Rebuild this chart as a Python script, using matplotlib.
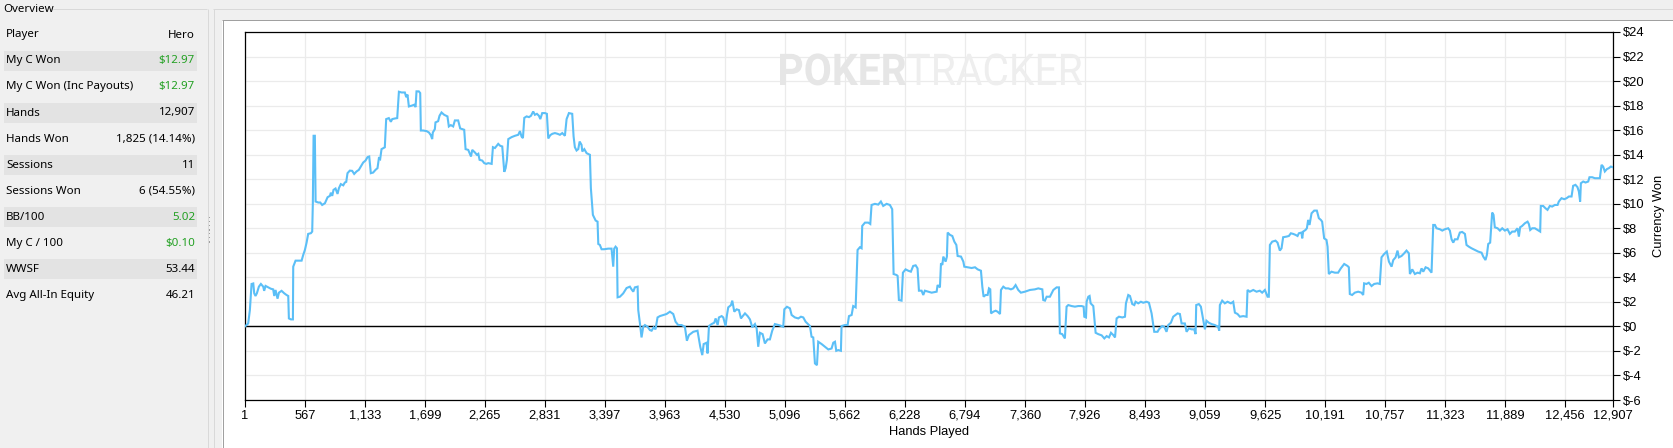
import matplotlib
matplotlib.use("Agg")
import matplotlib.pyplot as plt
from matplotlib import font_manager
from matplotlib.patches import Rectangle, PathPatch
from matplotlib.lines import Line2D
from matplotlib.textpath import TextPath
from matplotlib.font_manager import FontProperties
from matplotlib.transforms import Affine2D, IdentityTransform

# ---------------- data ----------------
hands_played = [
    1, 31, 47, 63, 79, 88, 100, 113, 132, 151, 173, 182, 195, 220, 245, 267, 277, 289, 308, 321,
    346, 371, 393, 409, 415, 434, 453, 456, 478, 503, 535, 550, 566, 582, 597, 623, 635, 641, 648, 660,
    667, 692, 711, 729, 755, 780, 802, 811, 824, 836, 855, 874, 887, 905, 928, 943, 956, 968, 990, 1012,
    1031, 1053, 1075, 1094, 1116, 1138, 1157, 1173, 1188, 1210, 1232, 1251, 1264, 1276, 1289, 1320, 1333, 1358, 1377, 1390,
    1415, 1437, 1453, 1478, 1509, 1522, 1534, 1547, 1572, 1597, 1610, 1619, 1641, 1654, 1660, 1682, 1714, 1736, 1754, 1767,
    1773, 1792, 1798, 1823, 1836, 1855, 1880, 1911, 1924, 1943, 1965, 1981, 2012, 2031, 2069,
    2082, 2107, 2133, 2145, 2170, 2189, 2202, 2214, 2239, 2258, 2277, 2296, 2328, 2340, 2359, 2390, 2409, 2428, 2447, 2460,
    2472, 2485, 2516, 2548, 2579, 2595, 2610, 2623, 2636, 2658, 2680, 2699, 2720, 2736, 2755, 2774, 2787, 2805, 2831, 2849,
    2862, 2881, 2900, 2925, 2950, 2972, 2994, 3019, 3035, 3057, 3088, 3101, 3113, 3129, 3145, 3158, 3176, 3183, 3202, 3224,
    3255, 3264, 3283, 3309, 3327, 3334, 3349, 3365, 3390, 3428, 3459, 3475, 3484, 3497, 3510, 3516, 3538, 3569, 3601, 3632,
    3648, 3664, 3679, 3705, 3711, 3727, 3742, 3758, 3774, 3799, 3821, 3837, 3856, 3874, 3893, 3915, 3947, 3978, 4010, 4041,
    4063, 4088, 4120, 4151, 4170, 4189, 4230, 4270,
    4296, 4315, 4328, 4356, 4365, 4378, 4403, 4428, 4441, 4460, 4472, 4498, 4513, 4535, 4548, 4560, 4586, 4598, 4617, 4639,
    4661, 4680, 4692, 4718, 4743, 4765, 4787, 4812, 4828, 4843, 4859, 4884, 4906, 4931, 4953, 4975, 5000, 5048, 5079, 5089,
    5114, 5142, 5158, 5189, 5221, 5246, 5268, 5290, 5331, 5346, 5362, 5378, 5397, 5409, 5441, 5472, 5504, 5535, 5551, 5567,
    5579, 5598, 5623, 5629, 5661, 5686, 5699, 5724, 5739, 5762, 5780, 5802, 5818, 5824, 5850, 5881, 5900, 5912, 5944, 5975,
    6000, 6022, 6054, 6085, 6107, 6120, 6148, 6158, 6170, 6195, 6208, 6233, 6258, 6283, 6305, 6328, 6346, 6359, 6384, 6400,
    6415,
    6479, 6526, 6535, 6557, 6567, 6580, 6589, 6611, 6623, 6630, 6652, 6674, 6693, 6712, 6724, 6756, 6778, 6787, 6818, 6856,
    6888, 6913, 6944, 6957, 6969, 6988, 7007, 7020, 7032, 7039, 7061, 7083, 7101, 7124, 7133, 7155, 7177, 7202, 7227, 7249,
    7271, 7296, 7321, 7359, 7406, 7453, 7485, 7523, 7532, 7548, 7564, 7595, 7627, 7658, 7680, 7689, 7711, 7736, 7752, 7768,
    7799, 7831, 7862, 7894, 7913, 7919, 7935, 7941, 7957, 7969, 7979, 8004, 8026, 8051, 8083, 8108, 8130, 8152, 8171, 8193,
    8209, 8224, 8246, 8278, 8303, 8312, 8334, 8350, 8372, 8391, 8403, 8428, 8453, 8475, 8507, 8529, 8554, 8579,
    8610, 8623, 8642, 8654, 8673, 8695, 8711, 8736, 8758, 8780, 8799, 8821, 8837, 8868, 8884, 8906, 8931, 8956, 8969, 8975,
    9000, 9019, 9041, 9057, 9072, 9094, 9120, 9151, 9182, 9192, 9198, 9220, 9245, 9270, 9302, 9324, 9340, 9365, 9387, 9418,
    9450, 9459, 9481, 9513, 9544, 9575, 9597, 9623, 9648, 9660, 9670, 9692, 9723, 9742, 9764, 9780, 9795, 9827, 9849, 9868,
    9890, 9912, 9931, 9943, 9968, 9975, 9984, 10006, 10019, 10031, 10044, 10063, 10088, 10113, 10132, 10151, 10163, 10182, 10204, 10214,
    10226, 10251, 10283, 10314, 10339, 10371, 10402, 10415, 10424, 10446, 10471, 10503, 10534, 10550, 10559, 10581, 10603, 10629, 10654, 10685,
    10707, 10723, 10748, 10773,
    10793, 10818, 10834, 10856, 10874, 10887, 10912, 10937, 10959, 10981, 10991, 11013, 11038, 11063, 11085, 11101, 11117, 11139, 11164, 11195,
    11211, 11227, 11242, 11274, 11296, 11321, 11352, 11368, 11384, 11400, 11415, 11440, 11462, 11484, 11510, 11525, 11547, 11572, 11604, 11635,
    11667, 11683, 11704, 11717, 11730, 11748, 11767, 11780, 11792, 11818, 11840, 11862, 11887, 11912, 11934, 11956, 11981, 12006, 12019, 12031,
    12050, 12076, 12101, 12113, 12126, 12145, 12170, 12195, 12220, 12226, 12248, 12270, 12289, 12311, 12333, 12358, 12384, 12396, 12421, 12447,
    12469, 12491, 12516, 12531, 12553, 12572, 12585, 12597, 12604, 12626, 12648, 12673, 12685, 12711, 12736, 12761, 12783, 12799, 12814, 12830,
    12849, 12868, 12887, 12907,
]

currency_won = [
    0, 0.24, 1.33, 3.46, 3.5, 2.7, 2.48, 2.7, 3.24, 3.46, 3.24, 2.9, 3.3, 3.18, 3.07, 3.02, 2.48, 2.97, 2.26, 2.75,
    2.9, 2.7, 2.56, 2.48, 0.65, 0.57, 0.57, 4.87, 5.36, 5.36, 5.36, 5.82, 6.23, 6.83, 7.54, 7.6, 7.73, 10.04, 15.54, 15.54,
    10.18, 10.1, 10.1, 9.9, 10.04, 10.53, 10.64, 10.9, 10.64, 11.13, 11.24, 10.8, 11.27, 11.6, 11.5, 11.73, 11.78, 12.49, 12.7, 12.68,
    12.43, 12.63, 12.76, 13.03, 13.36, 13.52, 13.8, 13.85, 12.49, 12.54, 12.76, 12.9, 13.7, 13.63, 14.45, 14.6, 16.9, 16.98, 16.68, 16.9,
    16.95, 16.98, 19.13, 19.07, 19.07, 18.69, 18.9, 17.93, 17.99, 18.07, 17.88, 19.16, 19.16, 19.02, 15.97, 15.97, 15.92, 15.81, 15.59, 15.27,
    15.81, 16.08, 16.63, 16.73, 17.17, 17.44, 17.25, 17.12, 16.3, 16.41, 16.3, 16.79, 16.79, 16.14, 16.03,
    14.45, 14.39, 13.85, 14.39, 14.18, 13.99, 14.07, 13.58, 13.52, 13.31, 13.25, 13.31, 13.25, 14.61, 14.54, 14.88, 14.72, 14.67, 12.6, 12.9,
    13.58, 15.27, 15.43, 15.54, 15.62, 15.92, 15.48, 15.35, 17.0, 17.12, 17.06, 17.17, 17.52, 17.25, 17.33, 17.17, 16.9, 17.39, 17.39, 17.33,
    15.32, 15.59, 15.7, 15.76, 15.7, 15.62, 15.76, 15.54, 16.9, 17.39, 17.33, 15.48, 14.61, 14.34, 14.45, 15.07, 14.8, 14.26, 14.45, 14.12,
    13.99, 11.27, 9.09, 8.63, 8.54, 6.72, 6.64, 6.29, 6.29, 6.34, 6.34, 4.87, 6.34, 6.5, 6.37, 2.37, 2.42, 2.69, 3.13, 3.24,
    3.02, 2.83, 3.18, 3.24, 1.33, 0.24, -0.9, -0.03, 0.11, -0.03, -0.3, -0.35, -0.08, -0.24, 0.73, 0.84, 0.93, 1.01, 1.2, 1.01,
    0.38, 0.11, 0.11, -0.03, -1.17, -0.71, -0.44, -0.35,
    -1.66, -2.34, -1.44, -1.33, -2.2, 0.03, 0.19, 0.3, 0.65, 0.11, 0.73, 0.84, 0.73, 0.03, 0.93, 1.55, 1.74, 2.1, 1.2, 1.39,
    1.33, 0.65, 0.79, 1.06, 0.84, 0.57, -0.08, 0.19, -0.16, -1.66, -0.52, -0.63, -1.39, -1.06, -1.06, -0.35, 0.19, 0.08, -0.03, 1.39,
    1.6, 1.47, 0.93, 0.73, 0.65, 0.79, 0.73, 0.38, 0.03, -0.84, -0.9, -3.02, -3.16, -1.25, -1.44, -1.66, -1.88, -1.8, -1.33, -1.25,
    -1.99, -1.93, -1.99, 0.03, 0.11, 0.11, 0.84, 0.93, 1.66, 1.55, 6.23, 6.45, 6.37, 8.19, 8.46, 8.46, 8.35, 9.9, 9.99, 9.93,
    10.18, 9.82, 9.99, 9.9, 9.55, 4.27, 4.19, 4.11, 2.15, 2.1, 4.38, 4.65, 4.54, 4.46, 4.93, 4.98, 4.73, 2.91, 2.91, 2.56,
    2.91,
    2.75, 2.83, 3.37, 3.18, 5.14, 5.01, 5.69, 5.28, 5.69, 7.65, 7.46, 7.37, 6.91, 6.64, 5.74, 5.69, 5.28, 4.87, 4.82, 4.76,
    4.82, 4.65, 4.54, 3.24, 2.42, 2.56, 2.56, 3.1, 3.02, 1.06, 1.2, 1.28, 1.2, 1.01, 2.97, 3.24, 3.1, 3.1, 3.02, 3.1,
    3.37, 2.97, 2.75, 2.83, 2.97, 3.02, 3.1, 3.02, 2.15, 2.1, 2.42, 2.42, 2.97, 3.18, 3.18, -0.57, -0.63, -0.98, 1.61, 1.74,
    1.66, 1.61, 1.66, 1.66, 1.61, 0.79, 0.73, 2.01, 2.42, 2.48, 1.88, 1.66, -0.52, -0.63, -0.73, -0.98, -0.79, -0.9, -0.52, -0.71,
    -0.9, 0.65, 0.79, 0.73, 0.79, 1.88, 2.56, 2.48, 1.82, 1.74, 2.01, 1.88, 2.01, 1.93, 2.01, 1.93, 1.06, -0.44,
    -0.44, -0.24, -0.08, 0.03, -0.03, -0.44, 0.11, 0.3, 0.79, 0.93, 1.06, 1.01, 0.24, 0.24, -0.44, -0.16, -0.24, -0.24, -0.63, 1.74,
    1.82, 1.61, 0.52, -0.24, 0.46, 0.3, 0.19, 0.11, -0.03, -0.35, 1.74, 2.1, 1.88, 2.01, 1.88, 2.01, 1.12, 1.01, 0.79, 0.84,
    0.79, 2.97, 2.83, 2.97, 2.83, 2.91, 2.75, 2.97, 2.42, 2.42, 6.64, 6.91, 6.99, 6.83, 6.18, 6.37, 7.27, 7.32, 7.37, 7.59,
    7.54, 7.46, 7.37, 7.59, 7.65, 7.18, 7.73, 7.86, 8.0, 8.68, 8.27, 9.22, 9.44, 9.44, 8.82, 8.68, 8.54, 7.18, 7.05, 6.5,
    4.27, 4.46, 4.38, 4.38, 4.73, 5.09, 4.93, 4.82, 2.64, 2.56, 2.75, 2.83, 2.75, 2.56, 3.51, 3.46, 3.56, 3.29, 3.46, 3.51,
    3.46, 5.63, 5.9, 6.1,
    5.28, 4.87, 5.41, 5.63, 6.18, 5.63, 5.74, 5.96, 6.18, 5.96, 4.27, 4.65, 4.27, 4.38, 4.33, 4.73, 4.46, 4.82, 4.73, 4.38,
    8.27, 8.27, 8.0, 7.92, 7.81, 7.92, 8.0, 7.81, 7.1, 6.83, 7.1, 7.1, 7.65, 7.7, 7.54, 6.64, 6.5, 6.37, 6.23, 6.1,
    6.01, 5.69, 5.41, 5.82, 6.72, 6.83, 9.28, 9.09, 8.08, 8.0, 7.81, 8.0, 7.81, 7.92, 7.54, 7.73, 7.73, 8.0, 7.32, 8.08,
    8.19, 8.41, 8.54, 8.35, 7.86, 8.0, 8.0, 7.86, 7.73, 9.82, 9.82, 9.63, 9.5, 9.82, 9.77, 9.9, 9.9, 10.18, 10.45, 10.37,
    10.45, 10.59, 10.59, 11.46, 11.54, 11.35, 10.99, 10.18, 11.67, 11.81, 11.73, 11.81, 12.16, 12.16, 12.08, 12.08, 12.08, 13.17, 13.03, 12.63,
    12.82, 12.9, 13.03, 12.97,
]

x_ticks = [1, 567, 1133, 1699, 2265, 2831, 3397, 3963, 4530, 5096, 5662, 6228,
           6794, 7360, 7926, 8493, 9059, 9625, 10191, 10757, 11323, 11889, 12456, 12907]
y_ticks = [-6, -4, -2, 0, 2, 4, 6, 8, 10, 12, 14, 16, 18, 20, 22, 24]

overview_labels = ["Player", "My C Won", "My C Won (Inc Payouts)", "Hands", "Hands Won",
                   "Sessions", "Sessions Won", "BB/100", "My C / 100", "WWSF", "Avg All-In Equity"]
overview_values = ["Hero", "$12.97", "$12.97", "12,907", "1,825 (14.14%)", "11",
                   "6 (54.55%)", "5.02", "$0.10", "53.44", "46.21"]
overview_green = [False, True, True, False, False, False, False, True, True, False, False]

# ---------------- setup ----------------
W, H, DPI = 1673, 448, 100
available = {f.name for f in font_manager.fontManager.ttflist}


def pick(*names):
    for n in names:
        if n in available:
            return n
    return "DejaVu Sans"


chart_font = pick("Liberation Sans Narrow", "Liberation Sans", "DejaVu Sans")
ui_font = pick("Noto Sans", "Open Sans", "DejaVu Sans")
wm_font = pick("Roboto", "Liberation Sans", "DejaVu Sans")

fig = plt.figure(figsize=(W / DPI, H / DPI), dpi=DPI, facecolor="#f0f0f0")


def fx(px):
    return px / W


def fy(py):
    return 1 - py / H


def hline(y, x0, x1, color, lw=1.0):
    fig.add_artist(Line2D([fx(x0), fx(x1)], [fy(y), fy(y)], transform=fig.transFigure,
                          color=color, lw=lw * 0.72, solid_capstyle="butt", zorder=-1))


def vline(x, y0, y1, color, lw=1.0):
    fig.add_artist(Line2D([fx(x), fx(x)], [fy(y0), fy(y1)], transform=fig.transFigure,
                          color=color, lw=lw * 0.72, solid_capstyle="butt", zorder=-1))


# white chart panel
fig.add_artist(Rectangle((fx(222), 0), 1 - fx(222), fy(20), transform=fig.transFigure,
                         facecolor="white", edgecolor="none", zorder=-2))
hline(20.5, 222, W, "#a0a0a0")
vline(222.5, 20, H, "#a0a0a0")
# outer frame lines
hline(9.5, 213, W, "#d9d9d9")
vline(213.5, 9, H, "#d9d9d9")
# overview groupbox
hline(9.5, 53, 207, "#d9d9d9")
vline(207.5, 9, H, "#d9d9d9")
# splitter dots
for yy in range(217, 242, 4):
    fig.add_artist(Rectangle((fx(208.5), fy(yy + 1.5)), fx(1.5), 1.5 / H, transform=fig.transFigure,
                             facecolor="#a0a0a0", edgecolor="none", zorder=-1))

# overview panel
fig.text(fx(3), fy(10), "Overview", ha="left", va="center", fontsize=8.3, family=ui_font, color="black")
for i, (lab, val, grn) in enumerate(zip(overview_labels, overview_values, overview_green)):
    yc = 35 + 26 * i
    if i % 2 == 1:
        fig.add_artist(Rectangle((fx(4), fy(yc + 10)), fx(193), 20 / H, transform=fig.transFigure,
                                 facecolor="#e3e3e3", edgecolor="none", zorder=-1))
    fig.text(fx(6), fy(yc), lab, ha="left", va="center", fontsize=8.3, family=ui_font, color="black")
    fig.text(fx(195), fy(yc), val, ha="right", va="center", fontsize=8.3, family=ui_font,
             color="#22a022" if grn else "black")

# ---------------- chart ----------------
ax = fig.add_axes([fx(245), fy(400), fx(1613) - fx(245), fy(32) - fy(400)])
ax.set_zorder(1)
ax.set_facecolor("white")
ax.set_xlim(1, 12907)
ax.set_ylim(-6, 24)
ax.set_axisbelow(True)
ax.grid(True, color="#ebebeb", lw=0.9)
ax.axhline(0, color="black", lw=1.0, zorder=2)
ax.plot(hands_played, currency_won, color="#5bbff7", lw=1.5, zorder=3, solid_joinstyle="miter")

ax.set_xticks(x_ticks)
ax.set_xticklabels([f"{v:,}" for v in x_ticks])
ax.yaxis.tick_right()
ax.yaxis.set_label_position("right")
ax.set_yticks(y_ticks)
ax.set_yticklabels([f"${v}" for v in y_ticks])
ax.tick_params(axis="both", direction="out", length=5, width=0.8, colors="black",
               labelsize=9.3, pad=2)
for lab in ax.get_xticklabels() + ax.get_yticklabels():
    lab.set_family(chart_font)
for sp in ax.spines.values():
    sp.set_color("black")
    sp.set_linewidth(0.9)
ax.set_xlabel("Hands Played", fontsize=9.3, family=chart_font, labelpad=3)
ax.set_ylabel("Currency Won", fontsize=9.3, family=chart_font, labelpad=6)

# watermark
fp_b = FontProperties(family=wm_font, weight="bold")
fp_n = FontProperties(family=wm_font, weight="normal")
tp1 = TextPath((0, 0), "POKER", size=100, prop=fp_b)
tp2 = TextPath((0, 0), "TRACKER", size=100, prop=fp_n)
b1, b2 = tp1.get_extents(), tp2.get_extents()
gap = 4
raw_w = b1.width + gap + b2.width
sx = 302 / raw_w
sy = 32 / b1.height
x_start, base = 780, H - 85
t1 = Affine2D().translate(-b1.x0, 0).scale(sx, sy).translate(x_start, base)
t2 = Affine2D().translate(-b2.x0, 0).scale(sx, sy).translate(x_start + (b1.width + gap) * sx, base)
for tp, tr, col in [(tp1, t1, "#e6e6e6"), (tp2, t2, "#eeeeee")]:
    p = PathPatch(tp, transform=tr + IdentityTransform(), facecolor=col, edgecolor="none", zorder=0.6)
    p.set_clip_on(False)
    ax.add_artist(p)

fig.savefig("out.png", dpi=DPI, facecolor=fig.get_facecolor())
